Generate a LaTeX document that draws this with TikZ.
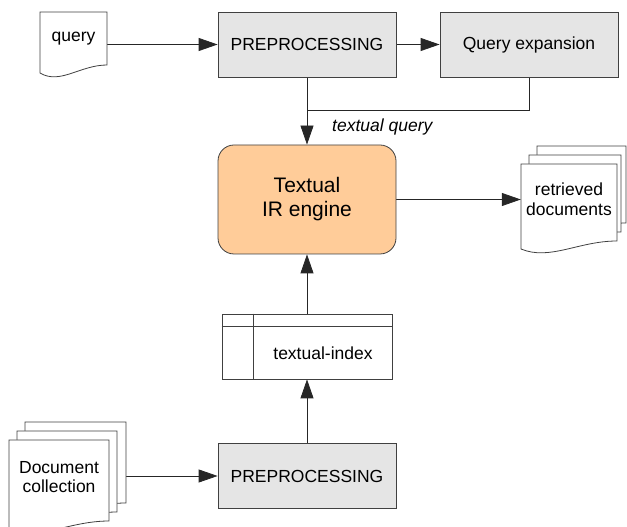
\documentclass[tikz,border=0pt]{standalone}
\usepackage{fontspec}
\setmainfont{Liberation Sans}
\usetikzlibrary{arrows.meta}
\definecolor{peach}{RGB}{255,204,153}
\tikzset{
    every node/.style={font=\fontsize{17.5}{19.5}\selectfont, align=center,
    	inner sep=0pt}
}
\tikzset{
    box/.style={rectangle, draw=black!75, fill=black!10, line width=0.8pt,
    	minimum width=178pt, minimum height=65pt},
    engine/.style={rectangle, rounded corners=16pt, draw=black!75, fill=peach,
    	line width=0.8pt, minimum width=178pt, minimum height=109pt,
    	font=\fontsize{21}{24}\selectfont},
    indexbox/.style={rectangle, draw=black!75, fill=white, line width=0.8pt,
    	minimum width=170pt, minimum height=65pt},
    docline/.style={draw=black!75, fill=white, line width=0.8pt}
}
\tikzset{
    every edge/.append style={line width=0.8pt, draw=black!85,
    	-{Triangle[length=19pt,width=13pt]}}
}
\pgfdeclarelayer{background}
\pgfsetlayers{background,main}
% one page with a wavy foot: left, top, width, height of right side
\newcommand{\docpage}[4]{%
	\filldraw[docline] (#1,#2) -- ({#1+#3},#2) -- ({#1+#3},{#2-#4})
		.. controls ({#1+0.6*#3},{#2-#4}) and ({#1+0.3*#3},{#2-#4-20}) ..
		(#1,{#2-#4-8}) -- cycle;
}

\begin{document}
\begin{tikzpicture}[x=1pt, y=1pt]
	\useasboundingbox (0,0) rectangle (627,527);
	
	\docpage{40}{515}{67}{53}
	\docpage{537}{381}{89}{77}
	\docpage{529}{372}{92}{77}
	\docpage{521}{363}{96}{77}
	\docpage{25}{105}{101}{81}
	\docpage{17}{96}{100}{81}
	\docpage{9}{87}{100}{81}
	
	\node (query) [minimum width=67pt, minimum height=53pt] at (73.5, 488) {query};
	\node (pre1) [box] at (307, 482.5) {PREPROCESSING};
	\node (qexp) [box] at (529, 482.5) {Query expansion};
	\node (tq) [anchor=west, font=\fontsize{17.5}{19.5}\selectfont\itshape] at (332, 400) {textual query};
	\node (engine) [engine] at (307, 327.5) {Textual\\IR engine};
	\node (ret) [minimum width=96pt, minimum height=77pt] at (569, 327.5) {retrieved\\documents};
	\node (idx) [indexbox, label={[xshift=16pt, yshift=-6.5pt]center:textual-index}] at (307, 180.5) {};
	\node (pre2) [box] at (307, 51) {PREPROCESSING};
	\node (docs) [minimum width=100pt, minimum height=81pt] at (59, 50) {Document\\collection};
	\coordinate (join) at (307, 417);
	
	\draw[black!75, line width=0.8pt] ([yshift=-13pt]idx.north west) -- ([yshift=-13pt]idx.north east);
	\draw[black!75, line width=0.8pt] ([xshift=32pt]idx.north west) -- ([xshift=32pt]idx.south west);
	
	\begin{pgfonlayer}{background}
	\draw (query.east |- pre1) edge (pre1); \draw (pre1) edge (qexp);
	\draw (pre1) edge (engine); \draw (engine) edge (ret);
	\draw (idx) edge (engine); \draw (pre2) edge (idx);
	\draw (docs.east |- pre2) edge (pre2);
	\draw[black!85, line width=0.8pt] (qexp) |- (join);
	\end{pgfonlayer}
\end{tikzpicture}
\end{document}
